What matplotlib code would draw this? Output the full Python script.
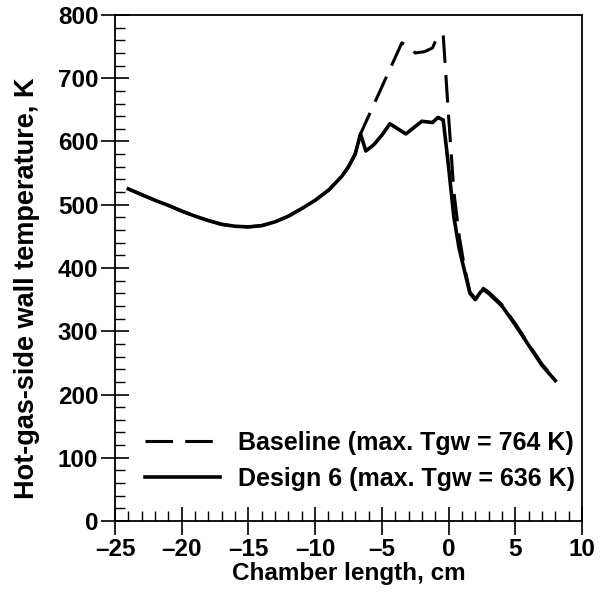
import matplotlib
matplotlib.use("Agg")
import matplotlib.pyplot as plt
from matplotlib.ticker import MultipleLocator

plt.rcParams['font.family'] = ['Liberation Sans', 'DejaVu Sans']
plt.rcParams['font.weight'] = 'bold'

# shared part of both curves (upstream of the throat)
common_x = [-24, -23, -22, -21, -20, -19, -18, -17, -16, -15, -14, -13, -12, -11,
            -10, -9, -8, -7.5, -7, -6.6]
common_y = [525, 516, 507, 499, 490, 482, 475, 469, 466, 465, 467, 473, 482, 494,
            507, 523, 545, 560, 580, 612]

base_x = [-3.5, -3.0, -2.5, -1.8, -1.2, -0.8, -0.4, 0.0, 0.4, 0.8, 1.2, 1.6, 2.0,
          2.4, 2.6, 3.0, 4.0, 5.0, 6.0, 7.0, 8.0]
base_y = [756, 750, 740, 742, 748, 768, 768, 640, 520, 450, 400, 362, 352,
          360, 368, 362, 342, 312, 280, 248, 224]

des_x = [-6.2, -5.6, -5.0, -4.4, -3.2, -2.0, -1.2, -0.8, -0.4, 0.0, 0.4, 0.8, 1.2,
         1.6, 2.0, 2.4, 2.6, 3.0, 4.0, 5.0, 6.0, 7.0, 8.0]
des_y = [585, 595, 610, 628, 612, 632, 630, 638, 634, 560, 480, 430, 395,
         360, 350, 362, 366, 360, 340, 310, 278, 246, 222]

x_ticks = [-25, -20, -15, -10, -5, 0, 5, 10]
x_labels = ['\u201325', '\u201320', '\u201315', '\u201310', '\u20135', '0', '5', '10']

x_base = common_x + base_x
y_base = common_y + base_y
x_des = common_x + des_x
y_des = common_y + des_y

fig = plt.figure(figsize=(6.1, 5.94), dpi=100)
ax = fig.add_axes([115 / 610, 73 / 594, 467 / 610, 506 / 594])

ax.plot(x_base, y_base, color='black', lw=2.2, ls=(0, (9, 4)),
        label='Baseline (max. Tgw = 764 K)')
ax.plot(x_des, y_des, color='black', lw=2.6,
        label='Design 6 (max. Tgw = 636 K)')

ax.set_xlim(-25, 10)
ax.set_ylim(0, 800)
ax.xaxis.set_minor_locator(MultipleLocator(1))
ax.yaxis.set_major_locator(MultipleLocator(100))
ax.yaxis.set_minor_locator(MultipleLocator(20))
ax.tick_params(which='major', direction='inout', length=20, width=1.2,
               labelsize=17.5, pad=2)
ax.tick_params(which='minor', direction='in', length=7, width=1)
ax.set_xticks(x_ticks)
ax.set_xticklabels(x_labels)
for s in ax.spines.values():
    s.set_linewidth(1.3)

ax.set_xlabel('Chamber length, cm', fontsize=17.5, fontweight='bold', labelpad=1)
ax.set_ylabel('Hot-gas-side wall temperature, K', fontsize=19.5, fontweight='bold')
ax.yaxis.set_label_coords(-0.16, 0.46)

leg = ax.legend(loc='lower right', frameon=False, fontsize=18, handlelength=3.0,
                handletextpad=0.72, labelspacing=0.48, borderaxespad=0,
                bbox_to_anchor=(1.006, 0.04))

fig.savefig('out.png', dpi=100)
